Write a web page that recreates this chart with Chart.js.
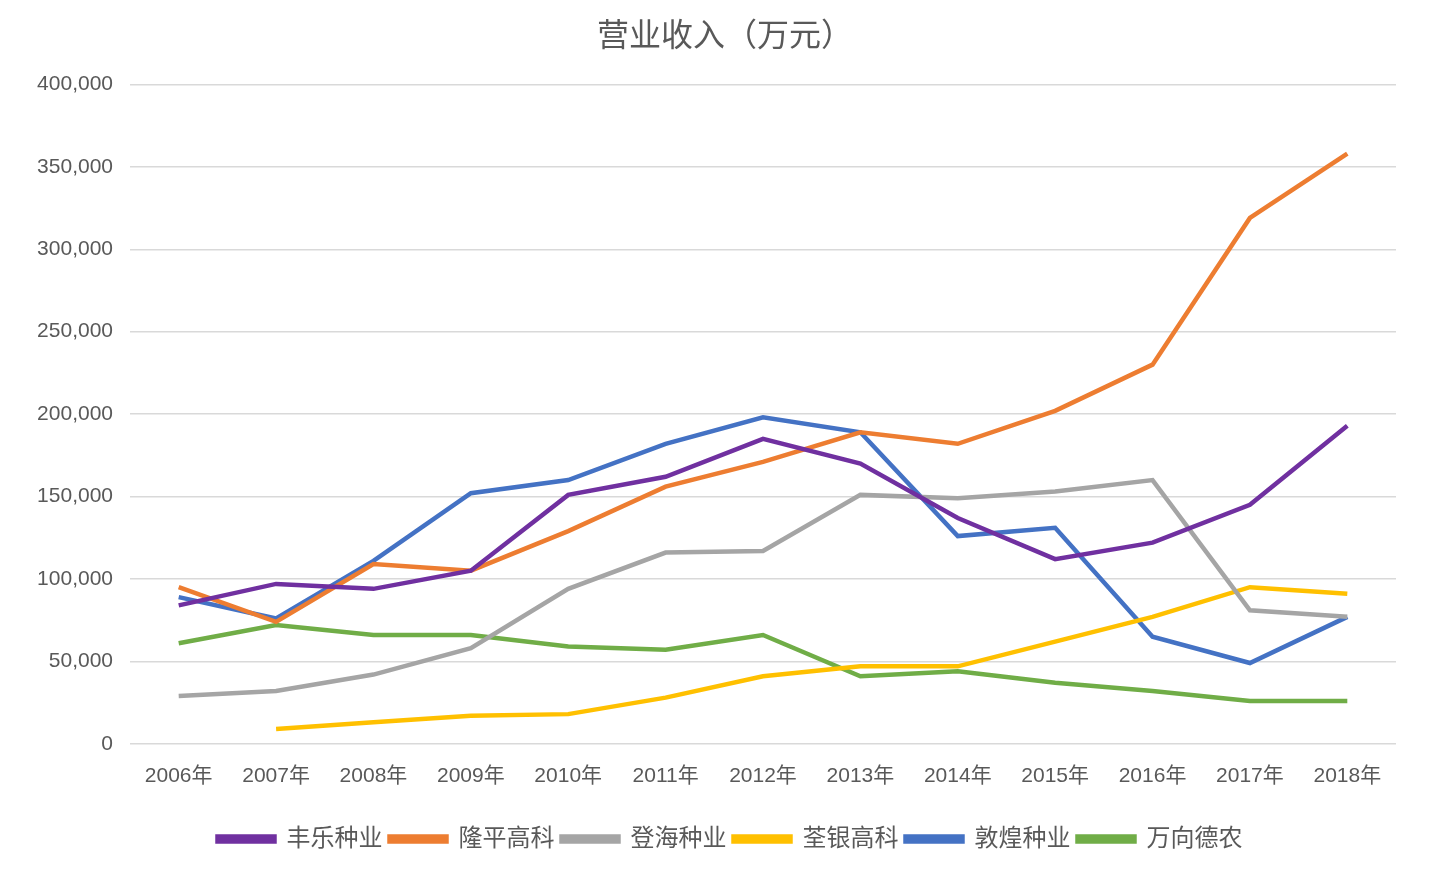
<!DOCTYPE html>
<html>
<head>
<meta charset="utf-8">
<script src="https://cdn.jsdelivr.net/npm/chart.js@4/dist/chart.umd.min.js"></script>
<style>
  html, body { margin: 0; padding: 0; background: #fff; }
  #wrap { width: 1452px; height: 893px; }
</style>
</head>
<body>
<div id="wrap"><canvas id="myChart"></canvas></div>
<script>
var years = ["2006年", "2007年", "2008年", "2009年", "2010年", "2011年", "2012年",
             "2013年", "2014年", "2015年", "2016年", "2017年", "2018年"];

// 营业收入, 万元
var fengle   = [84000, 97000, 94000, 105000, 151000, 162000, 185000, 170000, 137000, 112000, 122000, 145000, 193000];
var longping = [95000, 74000, 109000, 105000, 129000, 156000, 171000, 189000, 182000, 202000, 230000, 319000, 358000];
var denghai  = [29000, 32000, 42000, 58000, 94000, 116000, 117000, 151000, 149000, 153000, 160000, 81000, 77000];
var quanyin  = [null, 9000, 13000, 17000, 18000, 28000, 41000, 47000, 47000, 62000, 77000, 95000, 91000];
var dunhuang = [89000, 76000, 111000, 152000, 160000, 182000, 198000, 189000, 126000, 131000, 65000, 49000, 77000];
var wanxiang = [61000, 72000, 66000, 66000, 59000, 57000, 66000, 41000, 44000, 37000, 32000, 26000, 26000];

var names = ["丰乐种业", "隆平高科", "登海种业", "荃银高科", "敦煌种业", "万向德农"];
var lineColors = ["#7030A0", "#ED7D31", "#A5A5A5", "#FFC000", "#4472C4", "#70AD47"];
var yTicks = [0, 50000, 100000, 150000, 200000, 250000, 300000, 350000, 400000];

var series = [fengle, longping, denghai, quanyin, dunhuang, wanxiang];
var fontFam = "'Liberation Sans', Arial, 'Noto Sans CJK SC', sans-serif";

var datasets = series.map(function (d, i) {
  return {
    label: names[i],
    data: d,
    borderColor: lineColors[i],
    backgroundColor: lineColors[i],
    borderWidth: 4.5,
    pointRadius: 0,
    tension: 0,
    fill: false
  };
});

// title and legend sit a little right of centre in the original
var shiftBoxes = {
  id: "shiftBoxes",
  afterLayout: function (chart) {
    if (chart.legend) {
      chart.legend.left += 32;
      chart.legend.right += 32;
    }
    if (chart.titleBlock) {
      chart.titleBlock.left += 27;
      chart.titleBlock.right += 27;
    }
  }
};

new Chart("myChart", {
  type: "line",
  data: { labels: years, datasets: datasets },
  plugins: [shiftBoxes],
  options: {
    responsive: true,
    maintainAspectRatio: false,
    animation: false,
    layout: { padding: { left: 0, right: 56, top: 0, bottom: 32 } },
    plugins: {
      title: {
        display: true,
        text: "营业收入（万元）",
        color: "#595959",
        font: { family: fontFam, size: 32, weight: "normal" },
        padding: { top: 18, bottom: 28 }
      },
      legend: {
        position: "bottom",
        labels: {
          color: "#595959",
          font: { family: fontFam, size: 24 },
          boxWidth: 57,
          boxHeight: 5,
          padding: 7
        }
      },
      tooltip: { enabled: false }
    },
    scales: {
      x: {
        offset: true,
        afterFit: function (scale) { scale.height += 19; },
        grid: { display: false },
        border: { display: false },
        ticks: {
          color: "#595959",
          font: { family: fontFam, size: 21 },
          padding: 12,
          maxRotation: 0
        }
      },
      y: {
        min: 0,
        max: 400000,
        afterFit: function (scale) { scale.width = 130; },
        afterBuildTicks: function (scale) {
          scale.ticks = yTicks.map(function (v) { return { value: v }; });
        },
        grid: { color: "#d9d9d9", lineWidth: 1.5, drawTicks: false },
        border: { display: false },
        ticks: {
          color: "#595959",
          font: { family: fontFam, size: 21 },
          padding: 17,
          callback: function (v) { return v.toLocaleString("en-US"); }
        }
      }
    }
  }
});
</script>
</body>
</html>
